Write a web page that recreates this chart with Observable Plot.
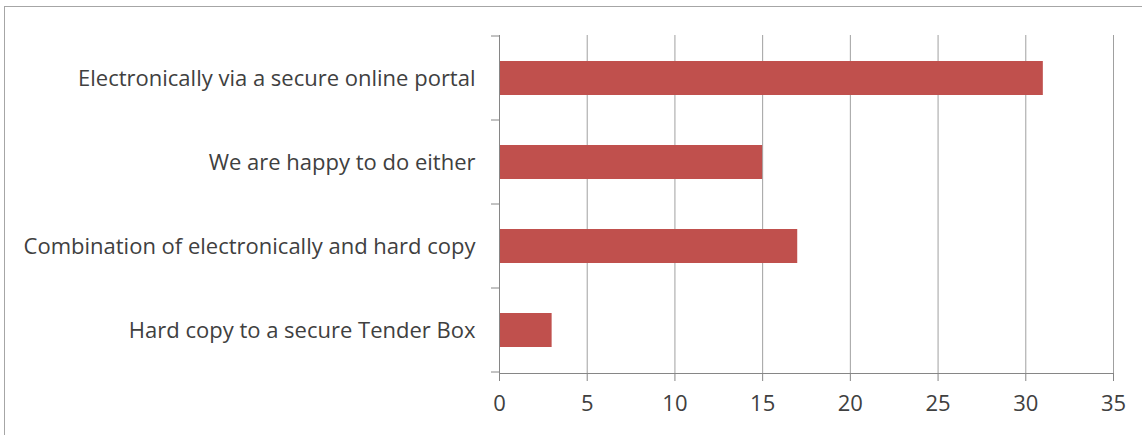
<!DOCTYPE html>
<html><head><meta charset="utf-8">
<script src="https://cdn.jsdelivr.net/npm/d3@7"></script>
<script src="https://cdn.jsdelivr.net/npm/@observablehq/plot@0.6"></script>
<style>
body{margin:0;background:#fff;}
#wrap{position:relative;width:1142px;height:435px;overflow:hidden;}
#border{position:absolute;left:4px;top:6px;width:1300px;height:600px;border:1px solid #a6a6a6;}
#chart{position:absolute;left:0;top:0;}
</style></head><body>
<div id="wrap"><div id="border"></div><div id="chart"></div></div>
<script>
const categories = [
  "Electronically via a secure online portal",
  "We are happy to do either",
  "Combination of electronically and hard copy",
  "Hard copy to a secure Tender Box"
];
const values = [31, 15, 17, 3];
const xTicks = [0, 5, 10, 15, 20, 25, 30, 35];

const data = categories.map((c, i) => ({category: c, value: values[i]}));
const font = "'Open Sans', Lato, sans-serif";
const textColor = "#404040";
const axisColor = "#868686";

const plot = Plot.plot({
  width: 1142,
  height: 435,
  marginLeft: 499,
  marginRight: 29,
  marginTop: 35,
  marginBottom: 62,
  style: {fontFamily: font, fontSize: "22px", color: textColor, background: "transparent"},
  x: {domain: [0, 35], ticks: xTicks},
  y: {domain: categories, paddingInner: 0.6, paddingOuter: 0.3},
  marks: [
    Plot.gridX(xTicks.filter(t => t > 0), {stroke: "#a0a0a0", strokeOpacity: 1, strokeWidth: 1}),
    Plot.barX(data, {x: "value", y: "category", fill: "#c0504d"}),
    Plot.ruleX([0], {stroke: axisColor}),
    Plot.frame({anchor: "bottom", stroke: axisColor}),
    Plot.axisX(xTicks, {tickSize: 8, tickPadding: 14, stroke: axisColor, fill: textColor, fontSize: 22, label: null}),
    Plot.axisY({tickSize: 0, tickPadding: 24, fill: textColor, fontSize: 22, label: null})
  ]
});

// category boundary ticks on the vertical axis
const ys = plot.scale("y");
const xs = plot.scale("x");
const x0 = xs.apply(0);
const gap = (ys.step - ys.bandwidth) / 2;
const bounds = categories.map(c => ys.apply(c) - gap);
bounds.push(ys.apply(categories[categories.length - 1]) + ys.bandwidth + gap);
const svg = d3.select(plot);
const g = svg.append("g").attr("stroke", axisColor);
bounds.forEach(b => {
  g.append("line").attr("x1", x0 - 8).attr("x2", x0).attr("y1", b).attr("y2", b);
});

document.getElementById("chart").appendChild(plot);
</script>
</body></html>
